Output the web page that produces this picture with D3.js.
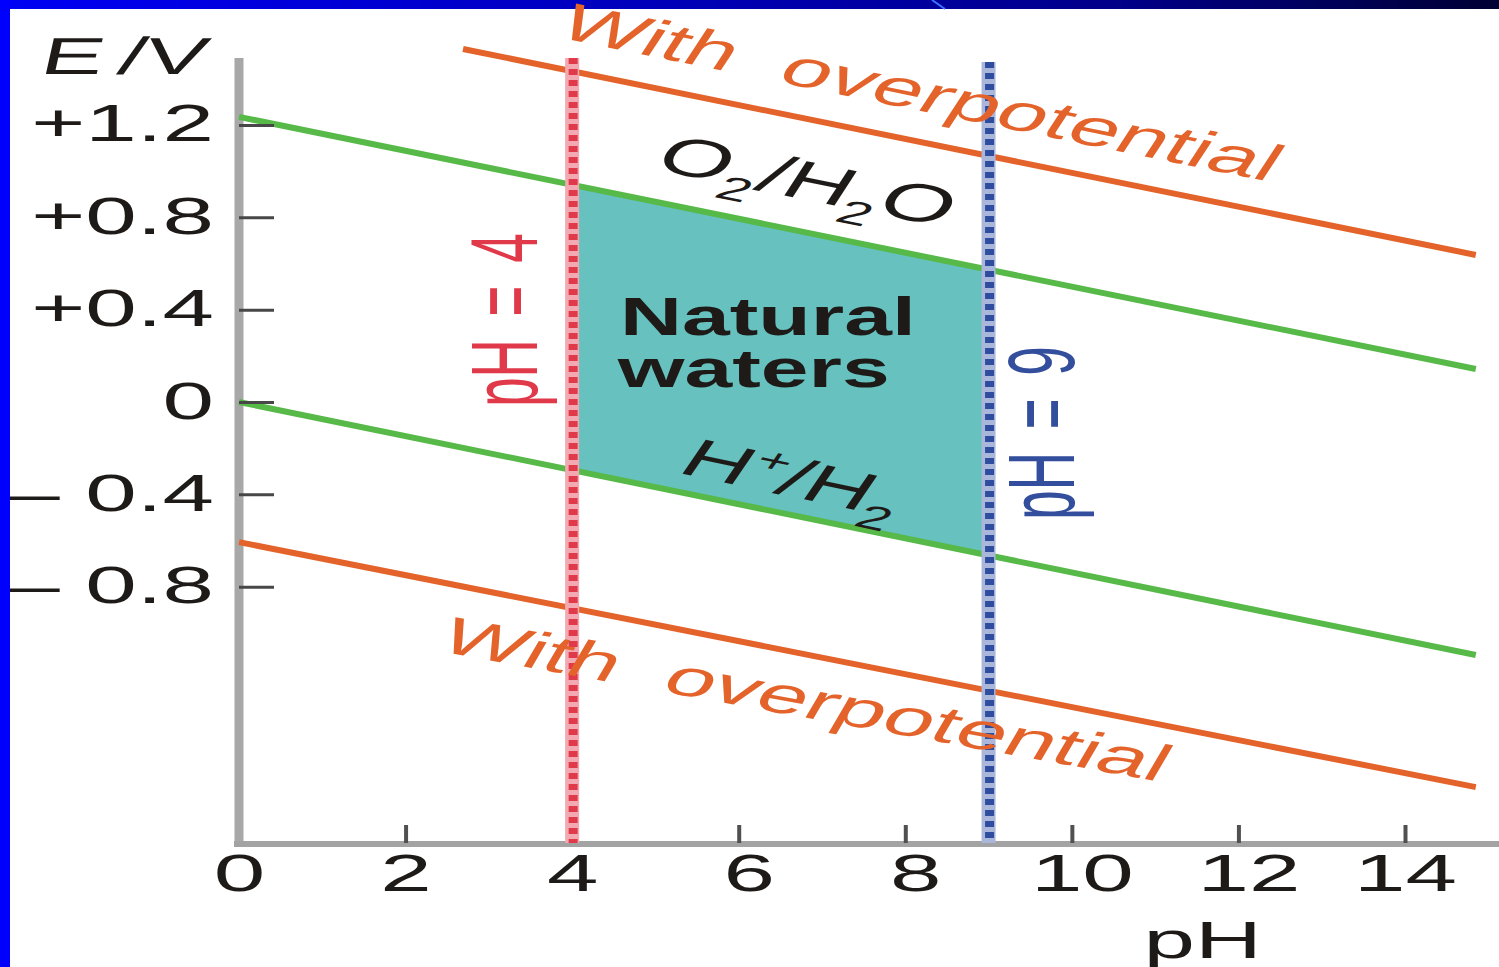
<!DOCTYPE html>
<html><head><meta charset="utf-8">
<script src="https://cdn.jsdelivr.net/npm/d3@7"></script>
<style>html,body{margin:0;padding:0;background:#fff;overflow:hidden}</style>
</head><body>
<svg id="chart" width="1499" height="967"></svg>
<script>
// ---- data ----
const pHTicks = [0, 2, 4, 6, 8, 10, 12, 14];
const pHTickLabels = ["0", "2", "4", "6", "8", "10", "12", "14"];
const eTicks = [1.2, 0.8, 0.4, 0, -0.4, -0.8];
const eTickLabels = ["+1.2", "+0.8", "+0.4", "0", "\u2013 0.4", "\u2013 0.8"];
const o2H2O = [[0, 1.235], [14.85, 0.143]];        // O2/H2O couple [pH, E]
const hH2 = [[0, 0.0], [14.85, -1.096]];           // H+/H2 couple
const overUpper = [[2.69, 1.529], [14.85, 0.637]]; // with overpotential (upper)
const overLower = [[0, -0.607], [14.85, -1.668]];  // with overpotential (lower)
const naturalPH = [4, 9];                          // natural waters pH range

// ---- setup ----
const W = 1499, H = 967;
const FONT = "'Liberation Sans', Arial, Helvetica, sans-serif";
const INK = "#1d1a18";
const svg = d3.select("#chart");
svg.append("rect").attr("width", W).attr("height", H).attr("fill", "#fff");

const x = d3.scaleLinear().domain([0, 14]).range([239, 1405]);
const y = d3.scaleLinear().domain([-1.91, 1.49]).range([843, 58]);

// frame decoration (slide border)
const defs = svg.append("defs");
const grad = defs.append("linearGradient").attr("id", "topbar").attr("x1", 0).attr("x2", 1).attr("y1", 0).attr("y2", 0);
[[0, "#0000f4"], [0.45, "#0000b8"], [0.75, "#000088"], [1, "#000033"]].forEach(([o, c]) =>
  grad.append("stop").attr("offset", o).attr("stop-color", c));

// axes lines
svg.append("line").attr("x1", x(0)).attr("x2", x(0)).attr("y1", y.range()[1]).attr("y2", 847)
  .attr("stroke", "#a8a8a8").attr("stroke-width", 9);
svg.append("line").attr("x1", 234).attr("x2", W).attr("y1", 844).attr("y2", 844)
  .attr("stroke", "#a3a3a3").attr("stroke-width", 6);

// natural waters region
const lineAt = (ln, p) => ln[0][1] + (ln[1][1] - ln[0][1]) * (p - ln[0][0]) / (ln[1][0] - ln[0][0]);
const area = d3.area().x(p => x(p)).y0(p => y(lineAt(hH2, p))).y1(p => y(lineAt(o2H2O, p)));
svg.append("path").datum(naturalPH).attr("d", area).attr("fill", "#66c1bf");

// lines
const lineGen = d3.line().x(d => x(d[0])).y(d => y(d[1]));
[[o2H2O, "#56b948"], [hH2, "#56b948"], [overUpper, "#e4632b"], [overLower, "#e4632b"]].forEach(([ln, c]) =>
  svg.append("path").datum(ln).attr("d", lineGen).attr("fill", "none")
    .attr("stroke", c).attr("stroke-width", 6));

// x axis ticks & labels
const gx = svg.append("g").attr("transform", "translate(0,843)")
  .call(d3.axisBottom(x).tickValues(pHTicks).tickFormat((d, i) => pHTickLabels[i]).tickSize(-18).tickPadding(0));
gx.attr("font-size", null).attr("font-family", null);
gx.select(".domain").remove();
gx.selectAll(".tick line").attr("stroke", "#505050").attr("stroke-width", 4)
  .filter(d => d === 0).remove();
gx.selectAll(".tick text").attr("y", null).attr("dy", null)
  .attr("transform", d => `translate(${d >= 6 && d <= 12 ? 10 : 0},48) scale(1.78,1)`)
  .attr("font-size", 52).attr("font-family", FONT).attr("fill", INK);

// y axis ticks & labels
const gy = svg.append("g").attr("transform", `translate(${x(0)},0)`)
  .call(d3.axisLeft(y).tickValues(eTicks).tickFormat((d, i) => eTickLabels[i]).tickSize(-35).tickPadding(0));
gy.attr("font-size", null).attr("font-family", null);
gy.select(".domain").remove();
gy.selectAll(".tick line").attr("stroke", "#474747").attr("stroke-width", 3);
gy.selectAll(".tick text").attr("x", null).attr("dy", null)
  .attr("transform", "translate(-25,16) scale(1.78,1)")
  .attr("font-size", 52).attr("font-family", FONT).attr("fill", INK).style("white-space", "pre");

// pH boundary verticals
function vline(p, top, base, dash) {
  svg.append("line").attr("x1", x(p)).attr("x2", x(p)).attr("y1", top).attr("y2", 843)
    .attr("stroke", base).attr("stroke-width", 14);
  svg.append("line").attr("x1", x(p) + 1).attr("x2", x(p) + 1).attr("y1", top).attr("y2", 843)
    .attr("stroke", dash).attr("stroke-width", 9).attr("stroke-dasharray", "6 5");
}
vline(naturalPH[0], y.range()[1], "#f2a9b1", "#e0394a");
vline(naturalPH[1], 62, "#aab6da", "#2f4d9e");

// slide border on top
svg.append("rect").attr("x", 0).attr("y", 0).attr("width", W).attr("height", 9).attr("fill", "url(#topbar)");
svg.append("line").attr("x1", 932).attr("y1", 0).attr("x2", 945).attr("y2", 9).attr("stroke", "#3f6fff").attr("stroke-width", 2);
svg.append("rect").attr("x", 0).attr("y", 0).attr("width", 10).attr("height", H).attr("fill", "#0000ff");

// ---- stretched text helper ----
const SX = 1.8;
function stext(p, e, segs, o) {
  const g = svg.append("g").attr("transform",
    `translate(${x(p)},${y(e)}) scale(${o.sx || SX},1) rotate(${o.rot || 0})${o.skew ? ` skewX(${o.skew})` : ""}`);
  const t = g.append("text").attr("text-anchor", o.anchor || "middle").attr("font-family", FONT)
    .attr("font-size", o.size).attr("font-weight", o.weight || "normal").attr("fill", o.fill || INK)
    .attr("word-spacing", o.ws || 0).style("white-space", "pre");
  if (typeof segs === "string") segs = [{ t: segs }];
  let shift = 0;
  segs.forEach(s => {
    const target = s.sub ? 0.28 * o.size : s.sup ? -0.36 * o.size : 0;
    const ts = t.append("tspan").text(s.t).attr("dy", target - shift);
    if (s.sub || s.sup) ts.attr("font-size", 0.62 * o.size);
    shift = target;
  });
  return t;
}
const ang = slope => Math.atan(slope * SX) * 180 / Math.PI;

// axis titles
stext(-2.41, 1.42, "E /V", { size: 52, anchor: "start", skew: -7, ws: -6 });
stext(11.57, -2.408, "pH", { size: 52, sx: 1.78 });

// annotations
stext(8.07, 1.269, "With  overpotential", { size: 51, rot: ang(0.203), fill: "#e4632b" });
stext(6.70, -1.360, "With  overpotential", { size: 51, rot: ang(0.181), fill: "#e4632b" });
stext(6.70, 0.884, [{ t: "O" }, { t: "2", sub: true }, { t: "/H" }, { t: "2", sub: true }, { t: "O" }],
  { size: 53, rot: ang(0.2) });
stext(6.54, -0.403, [{ t: "H" }, { t: "+", sup: true }, { t: "/H" }, { t: "2", sub: true }],
  { size: 53, rot: ang(0.21) });
stext(6.35, 0.290, "Natural", { size: 53, weight: "bold", sx: 1.62 });
stext(6.18, 0.065, "waters", { size: 53, weight: "bold", sx: 1.62 });
stext(3.578, 0.355, "pH = 4", { size: 53, rot: -90, fill: "#e0394a", ws: 8 });
stext(10.03, -0.134, "pH = 9", { size: 53, rot: -90, fill: "#334e9c", ws: 8 });
</script>
</body></html>
